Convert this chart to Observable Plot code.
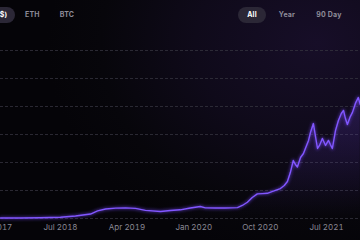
<!DOCTYPE html>
<html><head><meta charset="utf-8">
<script src="https://cdn.jsdelivr.net/npm/d3@7"></script>
<script src="https://cdn.jsdelivr.net/npm/@observablehq/plot@0.6"></script>
<style>
html,body{margin:0;padding:0;width:360px;height:240px;overflow:hidden;}
body{background:radial-gradient(ellipse 75% 90% at 88% 18%, #170e28 0%, #0f0a1a 45%, #07060b 80%, #050408 100%);font-family:Inter,"Open Sans",sans-serif;}
#tabs{position:relative;height:30px;}
.btn{position:absolute;top:7px;height:16px;line-height:16px;font-size:7px;font-weight:700;color:#8d8b98;text-align:center;letter-spacing:0.2px;}
.sel{background:#2b2736;color:#fff;border-radius:8px;}
#chart{position:relative;}
</style></head>
<body>
<div id="tabs"></div>
<div id="chart"></div>
<script>
const tabsLeft = ["USD ($)", "ETH", "BTC"];
const tabsRight = ["All", "Year", "90 Day"];
const dates = ["2017-10-27","2018-01-17","2018-04-09","2018-07-01","2018-09-01","2018-11-02","2018-12-01","2019-01-03","2019-02-13","2019-03-26","2019-05-06","2019-06-16","2019-08-17","2019-09-27","2019-11-07","2019-12-18","2020-01-28","2020-02-18","2020-03-30","2020-05-10","2020-06-29","2020-07-19","2020-08-09","2020-08-29","2020-09-19","2020-10-10","2020-10-30","2020-11-24","2020-12-23","2021-01-08","2021-01-21","2021-02-02","2021-02-14","2021-02-23","2021-03-03","2021-03-16","2021-03-28","2021-04-05","2021-04-18","2021-04-26","2021-05-08","2021-05-16","2021-05-25","2021-06-02","2021-06-14","2021-06-27","2021-07-09","2021-07-17","2021-07-25","2021-08-07","2021-08-19","2021-08-31","2021-09-09","2021-09-17","2021-09-25","2021-10-07","2021-10-16","2021-10-28","2021-11-09","2021-11-17"];
const values = [18,18,25,43,90,160,270,340,370,380,360,290,250,285,310,375,430,380,375,375,390,465,580,750,880,890,900,975,1070,1180,1320,1640,2070,1930,1840,2180,2320,2500,2790,3070,3390,2960,2500,2610,2860,2610,2790,2640,2500,3140,3500,3750,3860,3570,3360,3640,3790,4110,4320,4070];
const tickDates = ["2017-10-01","2018-07-01","2019-04-01","2020-01-01","2020-10-01","2021-07-01"];
const gridValues = [0,1000,2000,3000,4000,5000,6000];

// tabs
const tabsEl = document.getElementById("tabs");
const leftPos = [[-28,43,true],[25,14,false],[59,16,false]];
const rightPos = [[238,28,true],[276,22,false],[313,32,false]];
[[tabsLeft,leftPos],[tabsRight,rightPos]].forEach(([labels,pos]) => {
  labels.forEach((t,i) => {
    const d = document.createElement("div");
    d.className = "btn" + (pos[i][2] ? " sel" : "");
    d.style.left = pos[i][0] + "px";
    d.style.width = pos[i][1] + "px";
    d.textContent = t;
    tabsEl.appendChild(d);
  });
});

const data = dates.map((d,i) => ({date: new Date(d), value: values[i]}));
const fmt = d3.utcFormat("%b %Y");

const defs = () => {
  const g = d3.create("svg:defs");
  const lg = g.append("linearGradient").attr("id","fillgrad").attr("gradientUnits","userSpaceOnUse")
    .attr("x1",0).attr("y1",60).attr("x2",0).attr("y2",188);
  lg.append("stop").attr("offset","0%").attr("stop-color","#7b4cf5").attr("stop-opacity",0.22);
  lg.append("stop").attr("offset","100%").attr("stop-color","#7b4cf5").attr("stop-opacity",0);
  const f = g.append("filter").attr("id","glow").attr("x","-10%").attr("y","-10%").attr("width","120%").attr("height","120%");
  f.append("feGaussianBlur").attr("stdDeviation",1.5);
  return g.node();
};

const plot = Plot.plot({
  width: 360,
  height: 210,
  marginTop: 20,
  marginBottom: 22,
  marginLeft: 0,
  marginRight: 0,
  style: {background: "transparent", fontFamily: "Inter, 'Open Sans', sans-serif", fontSize: "8px", color: "#8a8894", overflow: "visible"},
  x: {type: "utc", domain: [new Date("2017-10-27"), new Date("2021-11-18")], ticks: tickDates.map(d => new Date(d)), tickFormat: fmt, tickSize: 0, tickPadding: 6, label: null},
  y: {domain: [0, 6000], axis: null},
  marks: [
    defs,
    Plot.ruleY(gridValues, {stroke: "#34323d", strokeWidth: 0.8, strokeDasharray: "3,2"}),
    Plot.areaY(data, {x: "date", y: "value", fill: "url(#fillgrad)", curve: "linear"}),
    Plot.lineY(data, {x: "date", y: "value", stroke: "#6e40f0", strokeWidth: 3, strokeOpacity: 0.5, curve: "linear"}),
    Plot.lineY(data, {x: "date", y: "value", stroke: "#8257ff", strokeWidth: 1.4, curve: "linear"})
  ]
});
document.getElementById("chart").appendChild(plot);
const paths = plot.querySelectorAll("g[aria-label='line'] path");
if (paths.length) paths[0].setAttribute("filter","url(#glow)");
</script>
</body></html>
